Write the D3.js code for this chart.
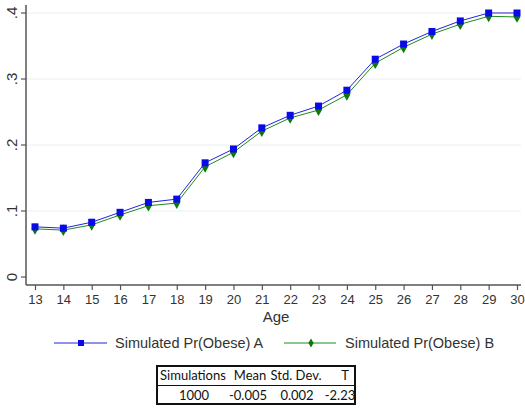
<!DOCTYPE html>
<html>
<head>
<meta charset="utf-8">
<script src="https://cdn.jsdelivr.net/npm/d3@7"></script>
<style>
  body { margin: 0; background: #fff; }
  svg { display: block; font-family: "Liberation Sans", Arial, sans-serif; }
</style>
</head>
<body>
<div id="chart"></div>
<script>
var ages = [13, 14, 15, 16, 17, 18, 19, 20, 21, 22, 23, 24, 25, 26, 27, 28, 29, 30];
var simA = [0.076, 0.074, 0.083, 0.098, 0.113, 0.118, 0.173, 0.194, 0.226, 0.245, 0.259, 0.283, 0.330, 0.353, 0.372, 0.388, 0.400, 0.400];
var simB = [0.073, 0.071, 0.079, 0.094, 0.108, 0.112, 0.167, 0.189, 0.221, 0.241, 0.253, 0.276, 0.324, 0.348, 0.368, 0.383, 0.395, 0.394];
var yTicks = [0, 0.1, 0.2, 0.3, 0.4];
var yTickLabels = ["0", ".1", ".2", ".3", ".4"];
var seriesNames = ["Simulated Pr(Obese) A", "Simulated Pr(Obese) B"];
var tableHead = ["Simulations", "Mean", "Std. Dev.", "T"];
var tableRow = ["1000", "-0.005", "0.002", "-2.23"];

var svgWidth = 525;
var svgHeight = 416;

var svg = d3.select("#chart").append("svg")
    .attr("width", svgWidth)
    .attr("height", svgHeight);

var x = d3.scaleLinear().domain([13, 30]).range([35, 517]);
var y = d3.scaleLinear().domain([0, 0.4]).range([277, 13]);

// gridlines
svg.append("g").selectAll("line")
    .data(yTicks.slice(1))
    .enter().append("line")
    .attr("x1", 27).attr("x2", 521)
    .attr("y1", d => y(d)).attr("y2", d => y(d))
    .attr("stroke", "#eaf0f0")
    .attr("stroke-width", 1);

// y axis
var yAxis = svg.append("g")
    .attr("transform", "translate(26,0)")
    .call(d3.axisLeft(y).tickValues(yTicks).tickSize(5).tickPadding(6)
        .tickFormat((d, i) => yTickLabels[i]));
yAxis.attr("font-family", null).attr("font-size", null);
yAxis.select(".domain").attr("d", "M0,5V285").attr("stroke", "#555").attr("stroke-width", 1.5);
yAxis.selectAll(".tick").attr("transform", null);
yAxis.selectAll(".tick line")
    .attr("stroke", "#555").attr("stroke-width", 1.2)
    .attr("y1", d => y(d)).attr("y2", d => y(d));
yAxis.selectAll(".tick text")
    .attr("fill", "#333")
    .attr("font-size", 15)
    .attr("x", 0).attr("y", 0).attr("dy", "0.35em")
    .attr("text-anchor", "middle")
    .attr("transform", d => "translate(-14," + y(d) + ") rotate(-90)");

// x axis
var xAxis = svg.append("g")
    .attr("transform", "translate(0,285)")
    .call(d3.axisBottom(x).tickValues(ages).tickSize(5).tickPadding(5).tickFormat(d3.format("d")));
xAxis.attr("font-family", null).attr("font-size", null);
xAxis.select(".domain").attr("d", "M26,0H521").attr("stroke", "#555").attr("stroke-width", 1.5);
xAxis.selectAll(".tick line").attr("stroke", "#555").attr("stroke-width", 1.2);
xAxis.selectAll(".tick text").attr("fill", "#333").attr("font-size", 13);

svg.append("text")
    .attr("x", 276).attr("y", 322)
    .attr("text-anchor", "middle")
    .attr("font-size", 15)
    .attr("fill", "#333")
    .text("Age");

var line = d3.line().x((d, i) => x(ages[i])).y(d => y(d));

// series B (green diamonds)
svg.append("path")
    .datum(simB)
    .attr("d", line)
    .attr("fill", "none")
    .attr("stroke", "#1e8a1e")
    .attr("stroke-width", 1);

svg.append("g").selectAll("path")
    .data(simB)
    .enter().append("path")
    .attr("d", d3.symbol().type(d3.symbolDiamond).size(40))
    .attr("transform", (d, i) => "translate(" + x(ages[i]) + "," + y(d) + ")")
    .attr("fill", "#0a7a0a");

// series A (blue squares)
svg.append("path")
    .datum(simA)
    .attr("d", line)
    .attr("fill", "none")
    .attr("stroke", "#2222e0")
    .attr("stroke-width", 1);

svg.append("g").selectAll("rect")
    .data(simA)
    .enter().append("rect")
    .attr("x", (d, i) => x(ages[i]) - 3.5)
    .attr("y", d => y(d) - 3.5)
    .attr("width", 7).attr("height", 7)
    .attr("fill", "#0a0ae6");

// legend
var legY = 343;
var legA = svg.append("g");
legA.append("line").attr("x1", 54).attr("x2", 107).attr("y1", legY).attr("y2", legY)
    .attr("stroke", "#2222e0").attr("stroke-width", 1);
legA.append("rect").attr("x", 78).attr("y", legY - 3).attr("width", 6).attr("height", 6).attr("fill", "#0a0ae6");
legA.append("text").attr("x", 115).attr("y", legY).attr("dy", "0.35em")
    .attr("font-size", 14.5).attr("fill", "#333").text(seriesNames[0]);

var legB = svg.append("g");
legB.append("line").attr("x1", 284).attr("x2", 336).attr("y1", legY).attr("y2", legY)
    .attr("stroke", "#1e8a1e").attr("stroke-width", 1);
legB.append("path").attr("d", d3.symbol().type(d3.symbolDiamond).size(24))
    .attr("transform", "translate(311," + legY + ")").attr("fill", "#0a7a0a");
legB.append("text").attr("x", 345).attr("y", legY).attr("dy", "0.35em")
    .attr("font-size", 14.5).attr("fill", "#333").text(seriesNames[1]);

// stats table
var tbl = svg.append("g").attr("font-family", "Lato, 'Open Sans', sans-serif").attr("font-size", 13);
tbl.append("rect").attr("x", 157).attr("y", 366).attr("width", 198).attr("height", 38)
    .attr("fill", "none").attr("stroke", "#111").attr("stroke-width", 2);
tbl.append("line").attr("x1", 157).attr("x2", 355).attr("y1", 385.5).attr("y2", 385.5)
    .attr("stroke", "#111").attr("stroke-width", 1);
var headX = [193, 250, 296, 345];
var rowX = [194, 248, 297, 340];
tbl.selectAll(".th").data(tableHead).enter().append("text")
    .attr("x", (d, i) => headX[i]).attr("y", 380)
    .attr("text-anchor", "middle")
    .attr("fill", "#111").text(d => d);
tbl.selectAll(".td").data(tableRow).enter().append("text")
    .attr("x", (d, i) => rowX[i]).attr("y", 399.5)
    .attr("text-anchor", "middle")
    .attr("fill", "#111").text(d => d);
</script>
</body>
</html>
